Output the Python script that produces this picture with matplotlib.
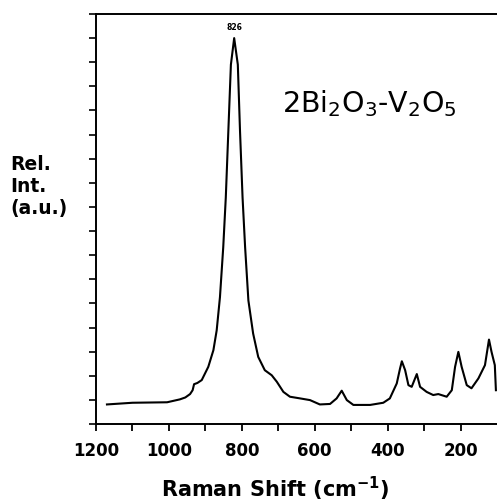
import numpy as np
import matplotlib
matplotlib.use('Agg')
import matplotlib.pyplot as plt
from matplotlib.ticker import MultipleLocator, FixedLocator

# spectrum (wavenumber in cm-1, relative intensity)
shift = [1170, 1100, 1005, 970, 955, 942, 935, 931, 922, 910, 892, 878, 869, 860,
         851, 844, 837, 830, 821, 811, 805, 798, 791, 782, 769, 755, 737, 718,
         704, 686, 668, 640, 613, 586, 558, 540, 526, 512, 494, 448, 412, 394,
         375, 366, 361, 352, 343, 334, 320, 311, 293, 275, 261, 238, 224, 215,
         206, 197, 183, 170, 151, 133, 122, 115, 106, 103]
intensity = [0.81, 0.88, 0.90, 1.02, 1.10, 1.24, 1.40, 1.65, 1.70, 1.82, 2.37, 3.06,
             3.88, 5.26, 7.33, 9.39, 12.15, 14.90, 16.0, 14.90, 12.15, 9.39, 7.33,
             5.12, 3.75, 2.78, 2.23, 2.02, 1.75, 1.33, 1.13, 1.06, 0.99, 0.81, 0.83,
             1.06, 1.38, 0.99, 0.79, 0.79, 0.88, 1.06, 1.68, 2.3, 2.60, 2.23, 1.61,
             1.54, 2.07, 1.54, 1.33, 1.20, 1.24, 1.13, 1.40, 2.37, 2.99, 2.37, 1.61,
             1.48, 1.89, 2.44, 3.50, 2.99, 2.44, 1.40]
xticks_major = [1200, 1000, 800, 600, 400, 200]
xticks_minor = [1100, 900, 700, 500, 300]
peak_pos = 821
peak_label = '826'
compound = '2Bi$_2$O$_3$-V$_2$O$_5$'

plt.rcParams['font.family'] = ['DejaVu Sans']
plt.rcParams['mathtext.default'] = 'regular'

fig = plt.figure(figsize=(4.97, 5.03), dpi=100)
ax = fig.add_axes([0.1932, 0.1571, 0.8068, 0.8151])

ax.plot(shift, intensity, color='black', lw=1.5)

ax.set_xlim(1200, 100)
ax.set_ylim(0, 17)

ax.spines['right'].set_visible(False)
for s in ['left', 'bottom', 'top']:
    ax.spines[s].set_linewidth(1.4)

ax.xaxis.set_major_locator(FixedLocator(xticks_major))
ax.xaxis.set_minor_locator(FixedLocator(xticks_minor))
ax.yaxis.set_major_locator(MultipleLocator(1))
ax.set_yticklabels([])
ax.tick_params(axis='x', which='both', direction='out', length=5, width=1.3,
               labelsize=12, pad=8)
ax.tick_params(axis='y', direction='out', length=5, width=1.2)
for lab in ax.get_xticklabels():
    lab.set_fontweight('bold')

# axis title sits a bit left of the axes centre in the original
fig.text(0.553, 0.012, 'Raman Shift (cm$^{-1}$)', fontsize=15, fontweight='bold',
         ha='center', va='baseline')

fig.text(0.02, 0.692, 'Rel.\nInt.\n(a.u.)', fontsize=13.5, fontweight='bold',
         ha='left', va='top', linespacing=1.2)

ax.text(peak_pos, 16.25, peak_label, fontsize=5.5, fontweight='bold', ha='center', va='bottom')
ax.text(0.463, 0.761, compound, transform=ax.transAxes, fontsize=20.5,
        ha='left', va='baseline')

fig.savefig('out.png', dpi=100)
